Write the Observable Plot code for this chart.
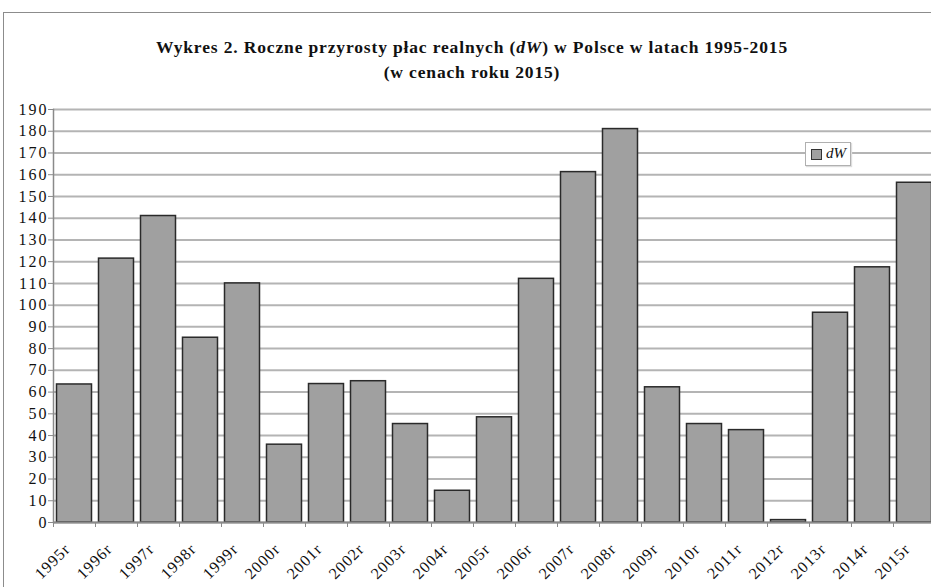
<!DOCTYPE html>
<html><head><meta charset="utf-8">
<script src="https://cdn.jsdelivr.net/npm/d3@7"></script>
<script src="https://cdn.jsdelivr.net/npm/@observablehq/plot@0.6"></script>
<style>
html,body{margin:0;padding:0;background:#fff;overflow:hidden;width:931px;height:587px}
#wrap{position:relative;width:931px;height:587px;overflow:hidden;font-family:"Liberation Serif","Times New Roman",Times,"DejaVu Serif",serif;color:#111}
#frame{position:absolute;left:3px;top:12px;width:1000px;height:700px;border:1.5px solid #8c8c8c;box-sizing:border-box}
.title{position:absolute;left:0;width:944px;text-align:center;font-weight:bold;font-size:17.5px;line-height:20px;letter-spacing:0.85px;color:#111;white-space:nowrap}
#t1{top:37px}
#t2{top:62px}
#chart{position:absolute;left:0;top:0;width:940px}
#chart svg{max-width:none !important}
#legend{position:absolute;left:805px;top:142px;width:44px;height:22px;border:1px solid #b0b0b0;background:#fff;box-shadow:1px 1px 1px #ddd}
#legend .sw{position:absolute;left:5px;top:6px;width:9px;height:9px;background:#a0a0a0;border:1.2px solid #333}
#legend .lb{position:absolute;left:20px;top:2px;font-style:italic;font-size:15px}
</style>
</head><body>
<div id="wrap">
  <div id="frame"></div>
  <div class="title" id="t1"></div>
  <div class="title" id="t2"></div>
  <div id="chart"></div>
  <div id="legend"><div class="sw"></div><div class="lb"></div></div>
</div>
<script>
const years = ["1995r","1996r","1997r","1998r","1999r","2000r","2001r","2002r","2003r","2004r","2005r","2006r","2007r","2008r","2009r","2010r","2011r","2012r","2013r","2014r","2015r"];
const dW = [63.5,121.4,141.0,85.0,110.0,35.8,63.7,65.0,45.3,14.6,48.4,112.1,161.2,181.0,62.2,45.3,42.5,1.1,96.5,117.4,156.3];
const yTicks = [0,10,20,30,40,50,60,70,80,90,100,110,120,130,140,150,160,170,180,190];
const seriesName = "dW";
const titleLine1 = ["Wykres 2. Roczne przyrosty płac realnych (", "dW", ") w Polsce w latach 1995-2015"];
const titleLine2 = "(w cenach roku 2015)";

document.getElementById("t1").innerHTML = titleLine1[0] + "<i>" + titleLine1[1] + "</i>" + titleLine1[2];
document.getElementById("t2").textContent = titleLine2;
document.querySelector("#legend .lb").textContent = seriesName;

const data = years.map((year, i) => ({year, value: dW[i]}));
const serif = "'Liberation Serif','Times New Roman',Times,'DejaVu Serif',serif";

const chart = Plot.plot({
  width: 940,
  height: 587,
  marginTop: 109,
  marginBottom: 65,
  marginLeft: 53,
  marginRight: 5,
  style: {background: "transparent", fontFamily: serif, color: "#111", overflow: "visible", maxWidth: "none"},
  x: {domain: years, padding: 0, label: null},
  y: {domain: [0, 190], label: null},
  marks: [
    Plot.gridY(yTicks, {stroke: "#b4b4b4", strokeWidth: 2, strokeOpacity: 1}),
    Plot.barY(data, {x: "year", y: "value", fill: "#a0a0a0", stroke: "#2a2a2a", strokeWidth: 1.5, insetLeft: 3.5, insetRight: 3.5}),
    Plot.ruleY([0], {stroke: "#8a8a8a", strokeWidth: 2}),
    Plot.frame({anchor: "left", stroke: "#8a8a8a", strokeWidth: 1.5}),
    Plot.axisY(yTicks, {tickSize: 5, tickPadding: 0, stroke: "#8a8a8a", fill: "#111", fontSize: 16, label: null}),
    Plot.axisX({tickSize: 5, text: null, dx: -21, stroke: "#8a8a8a", label: null}),
    Plot.axisX({tickSize: 0, tickRotate: -45, tickPadding: 0, dy: 24, dx: -7, fontSize: 16, fill: "#111", label: null})
  ]
});
document.getElementById("chart").appendChild(chart);
chart.querySelectorAll("g[aria-label='y-axis tick label'] text").forEach(t => t.setAttribute("letter-spacing", "2"));
chart.querySelectorAll("g[aria-label='x-axis tick label'] text").forEach(t => t.setAttribute("letter-spacing", "1"));
</script>
</body></html>
